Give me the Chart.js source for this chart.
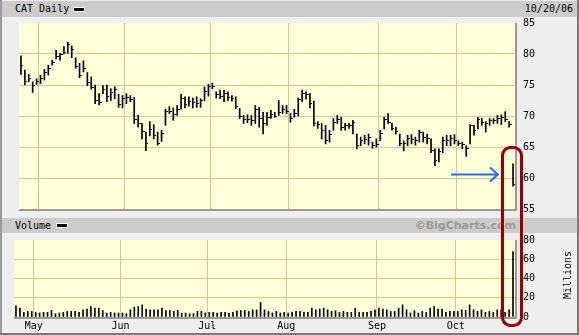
<!DOCTYPE html>
<html>
<head>
<meta charset="utf-8">
<script src="https://cdn.jsdelivr.net/npm/chart.js@4.4.0/dist/chart.umd.min.js"></script>
<style>
  body { margin: 0; }
  #wrap { position: relative; width: 579px; height: 335px; background: #eeeeee; overflow: hidden;
          font-family: "DejaVu Sans Mono", monospace; font-size: 10px; color: #000; }
  .band { position: absolute; left: 2px; right: 2px; background: #cccccc; }
  .lbl { position: absolute; line-height: 12px; white-space: nowrap; }
  .swatch { position: absolute; width: 10px; height: 3px; background: #000; border: 1px solid #fff; }
  canvas { position: absolute; }
  #frameL { position: absolute; left: 0; top: 0; width: 2px; height: 335px; background: #9a9a9a; }
  #frameR { position: absolute; right: 0; top: 0; width: 2px; height: 335px; background: #7a7a7a; }
  #frameB { position: absolute; left: 0; bottom: 0; width: 579px; height: 2px; background: #7a7a7a; }
  #copy { position: absolute; right: 63px; top: 218px; line-height: 15px; font-family: "DejaVu Sans", sans-serif;
          font-weight: bold; font-size: 11px; color: #9a9a9a; }
  #millions { position: absolute; left: 568px; top: 275px; transform: translate(-50%, -50%) rotate(-90deg); }
  #notes { position: absolute; left: 0; top: 0; }
</style>
</head>
<body>
<div id="wrap">
  <div class="band" style="top:1px;height:16px"></div>
  <div class="lbl" style="left:15px;top:3px">CAT Daily</div>
  <div class="swatch" style="left:73px;top:7px"></div>
  <div class="lbl" style="right:6px;top:3px">10/20/06</div>

  <div class="band" style="top:218px;height:15px"></div>
  <div class="lbl" style="left:15px;top:220px">Volume</div>
  <div class="swatch" style="left:56px;top:223px"></div>
  <div id="copy">&copy;BigCharts.com</div>

  <canvas id="priceChart" width="551" height="214" style="left:14px;top:9px"></canvas>
  <canvas id="volumeChart" width="551" height="107" style="left:14px;top:226px"></canvas>
  <div id="millions" class="lbl">Millions</div>

  <svg id="notes" width="579" height="335">
    <rect x="502.5" y="147.5" width="19" height="178" rx="8" ry="8" fill="none" stroke="#990000" stroke-width="3"/>
    <path d="M451 174.5 H498 M490 167.5 L498 174.5 L490 181.5" fill="none" stroke="#1f6fff" stroke-width="2"/>
  </svg>

  <div id="frameL"></div><div id="frameR"></div><div id="frameB"></div>
</div>

<script>
// daily bars, Apr 24 2006 .. Oct 20 2006
const monthLabels = ["May", "Jun", "Jul", "Aug", "Sep", "Oct"];
const monthStart = [5, 27, 49, 69, 92, 112];

const highs = [
  79.7, 77.4, 76.7, 75.5, 76.0, 76.6, 77.5, 78.2, 79.0, 80.6,
  80.1, 81.2, 81.9, 81.3, 79.4, 78.5, 78.9, 77.0, 76.3, 75.0,
  73.6, 74.9, 75.0, 74.4, 74.7, 73.5, 73.3, 73.6, 73.3, 73.0,
  70.1, 68.8, 67.4, 69.1, 68.6, 67.4, 67.7, 71.1, 71.5, 71.3,
  71.7, 73.5, 73.1, 73.1, 72.9, 73.1, 72.8, 74.7, 75.1, 75.3,
  73.9, 74.2, 74.2, 73.9, 73.3, 73.1, 71.2, 70.1, 70.2, 70.1,
  71.7, 71.4, 70.6, 70.6, 70.9, 70.6, 72.5, 71.7, 71.7, 70.4,
  71.1, 72.9, 74.2, 73.9, 73.6, 72.4, 69.1, 68.8, 68.5, 67.7,
  69.6, 70.1, 69.8, 68.8, 68.8, 69.3, 67.1, 66.6, 66.9, 67.1,
  65.8, 66.3, 67.7, 69.8, 70.4, 68.8, 68.2, 67.1, 66.0, 66.9,
  67.0, 66.6, 67.7, 67.4, 67.1, 66.3, 64.7, 64.7, 66.6, 66.9,
  66.9, 67.0, 66.0, 65.8, 65.2, 68.6, 68.5, 69.8, 69.6, 69.1,
  69.6, 69.6, 70.1, 70.2, 70.7, 69.1, 62.3
];
const lows = [
  76.7, 75.0, 75.5, 73.8, 75.1, 75.2, 75.8, 76.6, 78.2, 79.2,
  79.0, 80.0, 80.1, 79.4, 77.7, 76.2, 77.1, 74.9, 74.3, 72.0,
  71.8, 73.6, 72.3, 72.5, 72.8, 71.4, 71.3, 72.0, 72.3, 68.8,
  68.2, 66.3, 64.4, 66.8, 66.3, 65.3, 65.9, 68.5, 70.4, 69.3,
  70.1, 71.1, 71.3, 71.6, 71.3, 71.4, 71.4, 72.5, 73.2, 74.4,
  72.9, 72.8, 72.3, 72.5, 72.4, 71.2, 69.6, 68.8, 68.9, 68.5,
  68.8, 68.2, 67.1, 68.5, 69.6, 69.8, 70.1, 70.4, 70.4, 69.0,
  69.8, 70.0, 72.3, 72.7, 71.3, 68.4, 68.0, 66.3, 65.5, 65.8,
  67.7, 68.8, 67.7, 67.7, 68.0, 67.1, 64.7, 65.2, 65.5, 65.3,
  64.8, 65.0, 66.0, 67.9, 68.8, 67.7, 67.1, 65.2, 64.4, 65.2,
  65.5, 65.3, 65.8, 65.8, 65.5, 64.1, 62.0, 62.6, 64.1, 65.2,
  65.2, 65.5, 65.2, 64.7, 63.5, 65.5, 66.9, 67.9, 68.5, 67.4,
  68.5, 68.8, 68.8, 68.6, 69.1, 68.2, 58.7
];
const closes = [
  78.2, 75.5, 76.0, 75.0, 75.6, 76.0, 77.0, 77.6, 78.6, 79.6,
  80.0, 80.3, 81.5, 80.8, 78.0, 76.5, 77.6, 75.4, 74.6, 72.5,
  72.2, 74.2, 73.2, 73.8, 74.2, 71.9, 72.8, 73.0, 72.6, 69.4,
  68.8, 67.5, 65.5, 67.8, 66.8, 65.6, 67.2, 70.8, 70.8, 70.2,
  71.0, 72.8, 71.8, 72.4, 72.2, 72.0, 72.5, 74.0, 74.8, 74.8,
  73.4, 73.2, 73.6, 73.0, 72.8, 71.5, 70.0, 69.5, 69.4, 69.2,
  71.0, 69.6, 68.8, 69.8, 70.2, 70.0, 70.6, 71.0, 70.8, 69.6,
  70.4, 72.6, 73.6, 73.4, 72.0, 68.8, 68.6, 67.6, 66.0, 67.0,
  69.0, 69.4, 68.2, 68.4, 68.5, 69.0, 65.3, 66.0, 66.2, 66.6,
  65.2, 65.4, 67.2, 69.4, 69.0, 68.0, 67.5, 65.6, 65.6, 66.4,
  66.2, 66.0, 67.3, 66.6, 66.4, 64.5, 62.8, 64.2, 66.0, 66.0,
  66.4, 66.0, 65.6, 65.4, 64.8, 68.4, 67.6, 69.4, 69.0, 68.8,
  69.2, 69.2, 69.6, 69.8, 69.4, 68.6, 59.0
];
// millions of shares
const volume = [
  11.6, 9.2, 4.8, 5.8, 5.8, 4.8, 4.1, 4.8, 4.8, 6.8,
  3.4, 4.1, 4.8, 5.8, 5.8, 5.8, 4.8, 7.5, 8.2, 10.9,
  9.2, 9.2, 6.8, 4.1, 4.8, 4.1, 4.1, 4.1, 3.4, 7.5,
  10.3, 10.9, 12.6, 8.2, 7.5, 7.5, 7.5, 9.2, 6.8, 6.8,
  5.8, 6.8, 4.1, 4.1, 3.4, 3.4, 5.8, 5.8, 4.1, 4.8,
  4.8, 4.1, 4.8, 4.8, 4.1, 4.8, 6.5, 6.8, 6.8, 5.8,
  7.5, 7.5, 15.0, 7.5, 5.8, 4.1, 5.8, 4.1, 4.8, 4.1,
  4.8, 5.8, 5.8, 4.8, 4.8, 9.2, 7.5, 8.2, 9.2, 7.5,
  5.8, 6.5, 4.8, 5.8, 4.8, 4.8, 9.2, 4.8, 4.8, 4.8,
  5.8, 7.5, 9.2, 8.2, 7.5, 5.8, 5.8, 9.2, 12.6, 7.5,
  4.1, 6.5, 4.1, 5.8, 4.8, 9.2, 10.9, 8.2, 8.2, 4.8,
  5.8, 5.8, 5.8, 7.5, 6.8, 12.6, 7.5, 5.8, 7.5, 4.8,
  5.8, 4.8, 7.5, 7.5, 4.8, 7.5, 68
];
const priceTicks = [55, 60, 65, 70, 75, 80, 85];
const volumeTicks = [0, 20, 40, 60, 80];

const GRID = "#cccc99";
const FONT = { family: "DejaVu Sans Mono", size: 10 };
const last = highs.length - 1;

// dithered yellow plot background
const tile = document.createElement("canvas");
tile.width = 2; tile.height = 2;
const tctx = tile.getContext("2d");
tctx.fillStyle = "#ffffcc"; tctx.fillRect(0, 0, 2, 2);
tctx.fillStyle = "#ffffe6"; tctx.fillRect(0, 0, 1, 1); tctx.fillRect(1, 1, 1, 1);
const bgPattern = tctx.createPattern(tile, "repeat");

// close tick drawn to the right of the bar
const closeTick = document.createElement("canvas");
closeTick.width = 5; closeTick.height = 1;
const cctx = closeTick.getContext("2d");
cctx.fillStyle = "#000"; cctx.fillRect(3, 0, 2, 1);

const plotFrame = {
  id: "plotFrame",
  beforeDraw(chart) {
    const { ctx, chartArea: a } = chart;
    ctx.save();
    ctx.fillStyle = bgPattern;
    ctx.fillRect(a.left, a.top, a.right - a.left, a.bottom - a.top);
    ctx.restore();
  },
  afterDraw(chart) {
    const { ctx, chartArea: a } = chart;
    ctx.save();
    ctx.fillStyle = "#999999";
    ctx.fillRect(a.right, a.top, 2, a.bottom - a.top + 2);
    ctx.fillRect(a.left, a.bottom, a.right - a.left + 2, 2);
    ctx.restore();
  }
};

function monthAxis(showLabels) {
  return {
    type: "linear",
    min: -0.5,
    max: last + 0.5,
    offset: false,
    afterBuildTicks: (scale) => {
      scale.ticks = monthStart.map((v) => ({ value: v - 0.5 }));
    },
    afterFit: (scale) => { scale.height = showLabels ? 16 : 0; },
    ticks: {
      display: showLabels,
      autoSkip: false,
      maxRotation: 0,
      padding: 3,
      color: "#000",
      font: FONT,
      callback: (v) => monthLabels[monthStart.indexOf(v + 0.5)] || ""
    },
    grid: { color: GRID, drawTicks: false, offset: false },
    border: { display: false }
  };
}

function valueAxis(tickValues) {
  const lo = tickValues[0], hi = tickValues[tickValues.length - 1];
  return {
    position: "right",
    min: lo,
    max: hi,
    afterFit: (scale) => { scale.width = 50; },
    afterBuildTicks: (scale) => {
      scale.ticks = tickValues.map((v) => ({ value: v }));
    },
    ticks: { padding: 8, color: "#000", font: FONT },
    grid: {
      drawTicks: false,
      color: (ctx) => (ctx.tick && (ctx.tick.value === lo || ctx.tick.value === hi)) ? "rgba(0,0,0,0)" : GRID
    },
    border: { display: false }
  };
}

const common = {
  responsive: false,
  animation: false,
  devicePixelRatio: 1,
  plugins: { legend: { display: false }, tooltip: { enabled: false } },
  events: []
};

new Chart(document.getElementById("priceChart"), {
  type: "bar",
  data: {
    datasets: [
      {
        type: "bar",
        data: highs.map((h, i) => ({ x: i, y: [lows[i], h] })),
        backgroundColor: "#000",
        barThickness: 1,
        grouped: false
      },
      {
        type: "line",
        data: closes.map((c, i) => ({ x: i, y: c })),
        showLine: false,
        pointStyle: closeTick,
        pointRadius: 2
      }
    ]
  },
  options: {
    ...common,
    layout: { padding: 0 },
    scales: { x: monthAxis(false), y: valueAxis(priceTicks) }
  },
  plugins: [plotFrame]
});

new Chart(document.getElementById("volumeChart"), {
  type: "bar",
  data: {
    datasets: [{
      data: volume.map((v, i) => ({ x: i, y: v })),
      backgroundColor: "#000",
      barThickness: 1
    }]
  },
  options: {
    ...common,
    layout: { padding: 0 },
    scales: { x: monthAxis(true), y: valueAxis(volumeTicks) }
  },
  plugins: [plotFrame]
});
</script>
</body>
</html>
